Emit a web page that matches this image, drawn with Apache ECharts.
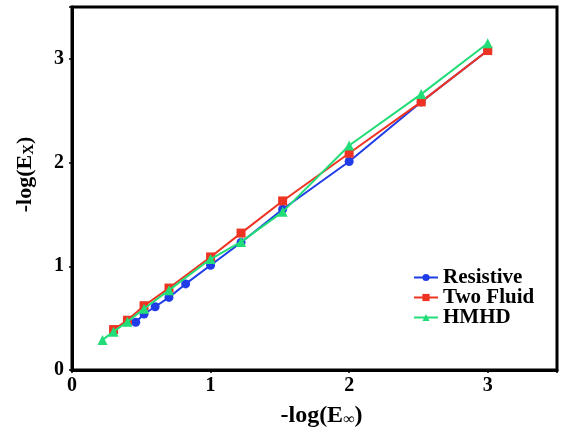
<!DOCTYPE html>
<html><head><meta charset="utf-8">
<script src="https://cdn.jsdelivr.net/npm/echarts@6/dist/echarts.min.js"></script>
<style>html,body{margin:0;padding:0;background:#fff}#c{width:561px;height:434px}</style>
</head><body><div id="c"></div>
<script>
const seriesNames = ['Resistive', 'Two Fluid', 'HMHD'];
const resistiveX = [0.46, 0.52, 0.60, 0.70, 0.82, 1.00, 1.22, 1.52, 2.00, 2.52, 3.00];
const resistiveY = [0.46, 0.54, 0.61, 0.70, 0.83, 1.01, 1.23, 1.55, 2.01, 2.585, 3.08];
const twoFluidX = [0.30, 0.40, 0.52, 0.70, 1.00, 1.22, 1.52, 2.00, 2.52, 3.00];
const twoFluidY = [0.39, 0.48, 0.62, 0.79, 1.09, 1.32, 1.63, 2.09, 2.585, 3.08];
const hmhdX = [0.22, 0.30, 0.40, 0.52, 0.70, 1.00, 1.22, 1.52, 2.00, 2.52, 3.00];
const hmhdY = [0.29, 0.37, 0.465, 0.59, 0.77, 1.07, 1.235, 1.525, 2.165, 2.66, 3.15];
const xTicks = [0, 1, 2, 3];
const yTicks = [0, 1, 2, 3];

const zip = (xs, ys) => xs.map((x, i) => [x, ys[i]]);
const FONT = "'Liberation Serif', 'Times New Roman', serif";
const colors = ['#1f3ce6', '#ee3322', '#22dd77'];
const symbols = ['circle', 'rect', 'triangle'];
const datas = [zip(resistiveX, resistiveY), zip(twoFluidX, twoFluidY), zip(hmhdX, hmhdY)];

const chart = echarts.init(document.getElementById('c'));
chart.setOption({
  animation: false,
  backgroundColor: '#fff',
  grid: { left: 72, right: 4, top: 7, bottom: 64, show: true, borderColor: '#000', borderWidth: 3, backgroundColor: 'transparent' },
  legend: {
    orient: 'vertical', left: 408, top: 262, itemWidth: 24, itemHeight: 9, itemGap: -1,
    textStyle: { fontFamily: FONT, fontWeight: 'bold', fontSize: 21, color: '#000' },
    data: seriesNames
  },
  xAxis: {
    type: 'value', min: 0, max: 3.5, interval: 1,
    axisLine: { show: true, lineStyle: { color: '#000', width: 3 } },
    axisTick: { show: true, length: 3, lineStyle: { color: '#000', width: 1.5 } },
    splitLine: { show: false },
    axisLabel: { color: '#000', fontFamily: FONT, fontWeight: 'bold', fontSize: 20, margin: 6,
      formatter: v => xTicks.includes(v) ? String(v) : '' },
    name: '-log(E{sub|∞})', nameLocation: 'middle', nameGap: 33,
    nameTextStyle: { color: '#000', fontFamily: FONT, fontWeight: 'bold', fontSize: 24, padding: [0, 0, 0, 14],
      rich: { sub: { fontFamily: FONT, fontWeight: 'bold', fontSize: 16, verticalAlign: 'bottom', padding: [9, 0, 0, 0] } } }
  },
  yAxis: {
    type: 'value', min: 0, max: 3.5, interval: 1,
    axisLine: { show: true, lineStyle: { color: '#000', width: 3 } },
    axisTick: { show: true, length: 3, lineStyle: { color: '#000', width: 1.5 } },
    splitLine: { show: false },
    axisLabel: { color: '#000', fontFamily: FONT, fontWeight: 'bold', fontSize: 20, margin: 8,
      formatter: v => yTicks.includes(v) ? String(v) : '' },
    name: '-log(E{sub|X})', nameLocation: 'middle', nameGap: 35, nameRotate: 90,
    nameTextStyle: { color: '#000', fontFamily: FONT, fontWeight: 'bold', fontSize: 22, padding: [0, 0, 0, 28],
      rich: { sub: { fontFamily: FONT, fontWeight: 'bold', fontSize: 15, verticalAlign: 'bottom', padding: [8, 0, 0, 0] } } }
  },
  series: seriesNames.map((n, i) => ({
    name: n, type: 'line', data: datas[i], symbol: symbols[i],
    symbolSize: i === 2 ? 10 : 9,
    itemStyle: { color: colors[i] },
    lineStyle: { color: colors[i], width: 2 },
    z: 2 + i
  }))
});
</script></body></html>
